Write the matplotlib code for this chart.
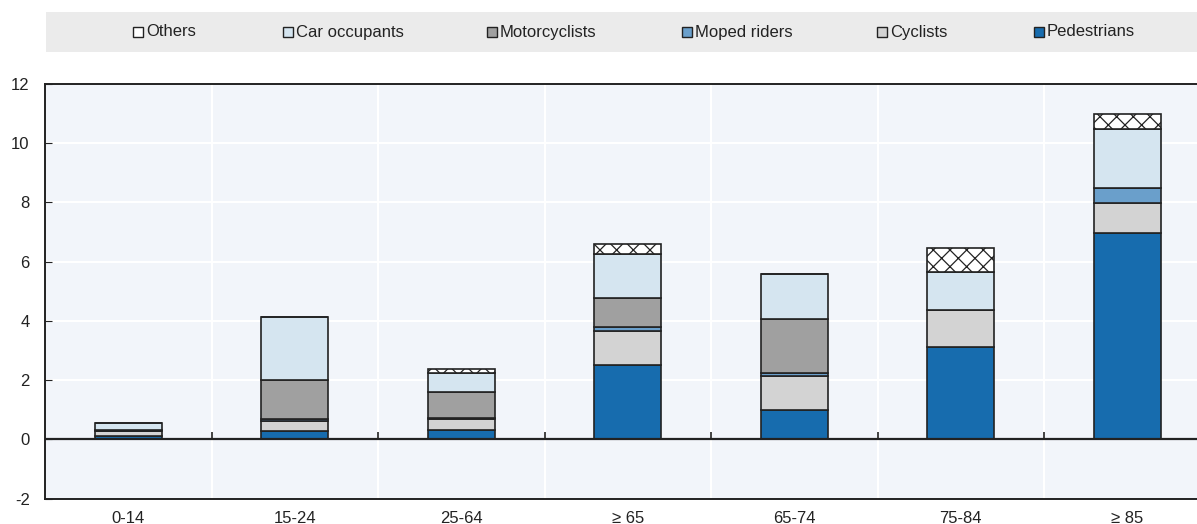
import matplotlib
matplotlib.use("Agg")
import matplotlib.pyplot as plt
from matplotlib.patches import Rectangle
import numpy as np

# data
age_groups = ["0-14", "15-24", "25-64", "\u2265 65", "65-74", "75-84", "\u2265 85"]
pedestrians = [0.13, 0.30, 0.33, 2.50, 0.98, 3.12, 6.97]
cyclists = [0.16, 0.31, 0.36, 1.16, 1.16, 1.26, 1.01]
moped_riders = [0.01, 0.07, 0.02, 0.14, 0.12, 0.0, 0.51]
motorcyclists = [0.02, 1.32, 0.90, 0.96, 1.79, 0.0, 0.0]
car_occupants = [0.24, 2.15, 0.65, 1.49, 1.53, 1.26, 1.99]
others = [0.0, 0.0, 0.12, 0.36, 0.0, 0.84, 0.51]

series = [
    ("Pedestrians", pedestrians, "#176CAE", None),
    ("Cyclists", cyclists, "#D3D3D3", None),
    ("Moped riders", moped_riders, "#6A9FCB", None),
    ("Motorcyclists", motorcyclists, "#A0A0A0", None),
    ("Car occupants", car_occupants, "#D5E5F0", None),
    ("Others", others, "white", "xx"),
]

plt.rcParams['font.family'] = ['Liberation Sans', 'DejaVu Sans']
plt.rcParams['axes.unicode_minus'] = False
plt.rcParams['hatch.linewidth'] = 0.9
plt.rcParams['hatch.color'] = '#222222'

fig = plt.figure(figsize=(11.97, 5.24), dpi=100)
ax = fig.add_axes([0.0376, 0.0483, 0.9737, 0.7914])
ax.set_facecolor("#F2F5FA")

x = np.arange(len(age_groups))
bottom = np.zeros(len(age_groups))
for name, vals, color, hatch in series:
    vals = np.array(vals)
    ax.bar(x, vals, width=0.4, bottom=bottom, color=color, edgecolor="#222222",
           linewidth=1.2, hatch=hatch, zorder=3)
    bottom += vals

ax.set_xlim(-0.5, len(age_groups) - 0.5)
ax.set_ylim(-2, 12)
ax.set_yticks(range(-2, 13, 2))
ax.set_xticks(x)
ax.set_xticklabels(age_groups)

# gridlines
for yv in range(2, 12, 2):
    ax.axhline(yv, color="white", lw=1.5, zorder=1)
for xb in x[:-1] + 0.5:
    ax.axvline(xb, color="white", lw=1.5, zorder=1)
ax.vlines(x[:-1] + 0.5, 0, 0.25, color="#222222", lw=1.2, zorder=2)
ax.axhline(0, color="#222222", lw=1.6, zorder=4)

for side in ["top", "left", "bottom"]:
    ax.spines[side].set_color("#222222")
    ax.spines[side].set_linewidth(1.4)
ax.spines["right"].set_visible(False)

ax.tick_params(axis="y", direction="in", length=5, pad=11, labelsize=12, colors="#222222")
ax.tick_params(axis="x", length=0, pad=9, labelsize=12, colors="#222222")

# legend band across the top
fig.patches.append(Rectangle((46 / 1197, 1 - 52 / 524), 1151 / 1197, 40 / 524,
                             transform=fig.transFigure, facecolor="#EBEBEB",
                             edgecolor="none", zorder=0))
legend_x = [133, 283, 487, 682, 877, 1034]
for (name, vals, color, hatch), lx in zip(series[::-1], legend_x):
    fig.patches.append(Rectangle((lx / 1197, 1 - 37 / 524), 10 / 1197, 10 / 524,
                                 transform=fig.transFigure, facecolor=color,
                                 edgecolor="#222222", linewidth=1.0))
    fig.text((lx + 13) / 1197, 1 - 32 / 524, name, fontsize=12, color="#222222",
             va="center", ha="left")

fig.savefig("out.png", dpi=100)
